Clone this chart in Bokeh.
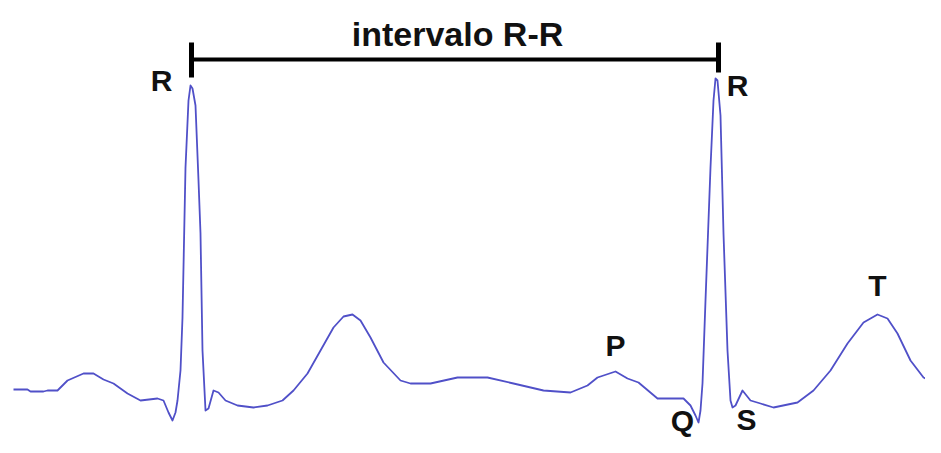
from bokeh.plotting import figure
from bokeh.models import Range1d
from bokeh.core.properties import value
from bokeh.embed import file_html
from bokeh.resources import INLINE

# ECG trace (time in px-units, amplitude in px-units, upward positive)
ecg_t = [13, 27, 30, 43, 47, 57, 67, 83, 93, 103, 113, 127, 140, 157, 163, 168, 172, 175, 177, 180,
         182, 185, 188, 190, 192, 195, 198, 200, 202, 205, 208, 213, 218, 225, 237, 253, 267, 282, 293,
         307, 320, 333, 343, 352, 360, 370, 383, 400, 410, 430, 457, 487, 513, 543, 570, 587, 597, 615,
         627, 638, 657, 670, 683, 690, 695, 698, 700, 702, 705, 710, 713, 715, 717, 720, 723, 727, 730,
         732, 735, 742, 750, 760, 773, 797, 813, 830, 847, 863, 877, 887, 897, 910, 923, 940]
ecg_v = [64, 64, 62, 62, 63, 63, 73, 80, 80, 74, 70, 60, 53, 55, 53, 41, 33, 41, 53, 83,
         136, 286, 353, 368, 365, 348, 273, 220, 103, 43, 45, 63, 61, 53, 48, 46, 48, 53, 63,
         80, 103, 126, 137, 139, 133, 116, 91, 73, 70, 70, 76, 76, 70, 63, 61, 68, 76, 82,
         75, 71, 55, 55, 55, 48, 38, 31, 43, 70, 153, 286, 353, 375, 373, 338, 220, 103, 53,
         46, 48, 63, 53, 50, 46, 51, 63, 83, 110, 131, 139, 135, 120, 93, 76, 68]

# Wave labels
wave_names = ["R", "R", "P", "Q", "S", "T"]
wave_t = [161, 737, 615, 682, 746, 877]
wave_v = [373, 368, 108, 33, 34, 168]

# R-R interval bracket
rr_start, rr_end = 191, 718
rr_level = 394
rr_tick_top = 411
rr_tick_bottom = [376, 381]
rr_label = "intervalo R-R"
rr_label_t, rr_label_v = 457, 420

p = figure(width=925, height=437, output_backend="svg", toolbar_location=None,
           x_range=Range1d(0, 925), y_range=Range1d(16, 453),
           min_border=0, outline_line_color=None)
p.axis.visible = False
p.grid.visible = False
p.background_fill_color = "white"
p.border_fill_color = "white"

p.line(ecg_t, ecg_v, line_color="#5050c8", line_width=1.8, line_join="round")

# bracket
p.segment(x0=[rr_start], y0=[rr_level], x1=[rr_end], y1=[rr_level], line_color="black", line_width=4)
p.segment(x0=[rr_start, rr_end], y0=rr_tick_bottom, x1=[rr_start, rr_end],
          y1=[rr_tick_top, rr_tick_top], line_color="black", line_width=5)

p.text(x=[rr_label_t], y=[rr_label_v], text=[rr_label], text_font=value("Liberation Sans"),
       text_font_style="bold", text_font_size="34px", text_align="center", text_baseline="middle",
       text_color="#111111")
p.text(x=wave_t, y=wave_v, text=wave_names, text_font=value("Liberation Sans"),
       text_font_style="bold", text_font_size="30px", text_align="center", text_baseline="middle",
       text_color="#111111")

open("out.html", "w").write(file_html(p, INLINE))
